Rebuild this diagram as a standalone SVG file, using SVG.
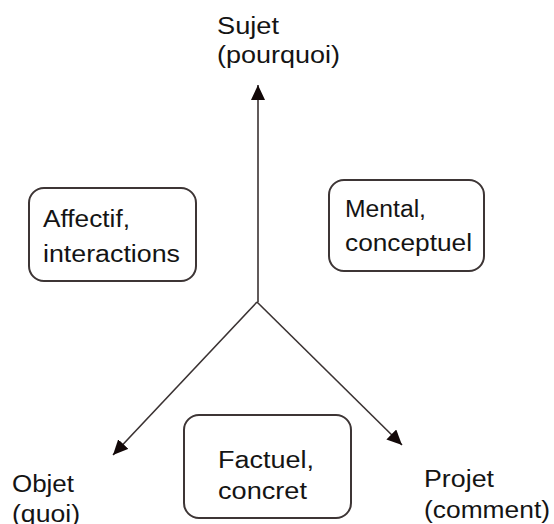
<svg xmlns="http://www.w3.org/2000/svg" width="554" height="524" viewBox="0 0 554 524">
<defs>
<marker id="ah" markerUnits="userSpaceOnUse" markerWidth="16" markerHeight="14" refX="15" refY="7" orient="auto">
<path d="M0,0 L15,7 L0,14 Z" fill="#120808"/>
</marker>
<style>
text{font-family:"Liberation Sans",Arial,sans-serif;font-size:23px;fill:#141414;}
.box{fill:#fff;stroke:#3d3535;stroke-width:2;}
.ln{stroke:#3a3232;stroke-width:1.6;fill:none;}
</style>
</defs>
<rect width="554" height="524" fill="#fff"/>
<g id="connectors">
<line class="ln" x1="258" y1="302" x2="258" y2="85" marker-end="url(#ah)"/>
<line class="ln" x1="257" y1="302" x2="113" y2="455" marker-end="url(#ah)"/>
<line class="ln" x1="257" y1="302" x2="402" y2="445" marker-end="url(#ah)"/>
</g>
<g id="sujet">
<text x="217" y="34" textLength="62" lengthAdjust="spacingAndGlyphs">Sujet</text>
<text x="217" y="63" textLength="123" lengthAdjust="spacingAndGlyphs">(pourquoi)</text>
</g>
<g id="affectif">
<rect class="box" x="29" y="188" width="167" height="93" rx="15"/>
<text x="43" y="227" textLength="87" lengthAdjust="spacingAndGlyphs">Affectif,</text>
<text x="43" y="262" textLength="137" lengthAdjust="spacingAndGlyphs">interactions</text>
</g>
<g id="mental">
<rect class="box" x="329" y="180" width="155" height="91" rx="15"/>
<text x="345" y="217" textLength="81" lengthAdjust="spacingAndGlyphs">Mental,</text>
<text x="345" y="251" textLength="127" lengthAdjust="spacingAndGlyphs">conceptuel</text>
</g>
<g id="factuel">
<rect class="box" x="184" y="415" width="167" height="103" rx="15"/>
<text x="218" y="468" textLength="96" lengthAdjust="spacingAndGlyphs">Factuel,</text>
<text x="218" y="499" textLength="89" lengthAdjust="spacingAndGlyphs">concret</text>
</g>
<g id="objet">
<text x="12" y="492" textLength="62" lengthAdjust="spacingAndGlyphs">Objet</text>
<text x="12" y="522" textLength="68" lengthAdjust="spacingAndGlyphs">(quoi)</text>
</g>
<g id="projet">
<text x="424" y="487" textLength="70" lengthAdjust="spacingAndGlyphs">Projet</text>
<text x="424" y="518" textLength="126" lengthAdjust="spacingAndGlyphs">(comment)</text>
</g>
</svg>
